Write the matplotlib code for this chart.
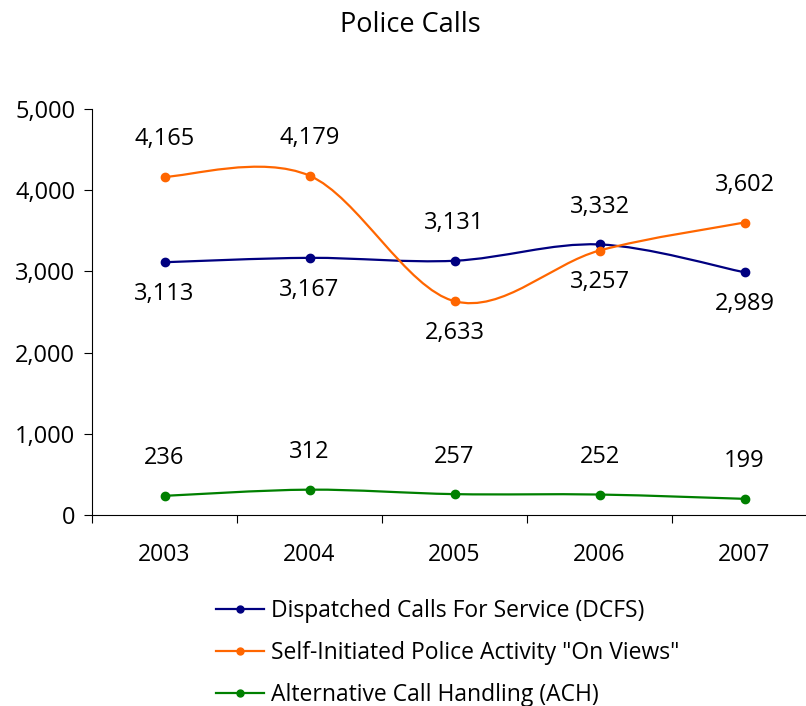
import matplotlib
matplotlib.use("Agg")
import matplotlib.pyplot as plt
from matplotlib.path import Path
from matplotlib.patches import PathPatch
from matplotlib.lines import Line2D
from matplotlib.ticker import FuncFormatter, FixedLocator

plt.rcParams["font.family"] = ["Open Sans", "DejaVu Sans"]

years = ["2003", "2004", "2005", "2006", "2007"]
dcfs = [3113, 3167, 3131, 3332, 2989]
on_views = [4165, 4179, 2633, 3257, 3602]
ach = [236, 312, 257, 252, 199]

series = [
    ("Dispatched Calls For Service (DCFS)", dcfs, "#000080",
     [-1, -1, 1, 1, -1]),
    ('Self-Initiated Police Activity "On Views"', on_views, "#ff6600",
     [1, 1, -1, -1, 1]),
    ("Alternative Call Handling (ACH)", ach, "#008000",
     [1, 1, 1, 1, 1]),
]


def smooth_path(xs, ys):
    # excel-style smoothing: cubic bezier through points, catmull-rom handles
    verts = [(xs[0], ys[0])]
    codes = [Path.MOVETO]
    n = len(xs)
    for i in range(n - 1):
        x0, y0 = (xs[i - 1], ys[i - 1]) if i > 0 else (xs[i], ys[i])
        x3, y3 = (xs[i + 2], ys[i + 2]) if i + 2 < n else (xs[i + 1], ys[i + 1])
        c1 = (xs[i] + (xs[i + 1] - x0) / 6, ys[i] + (ys[i + 1] - y0) / 6)
        c2 = (xs[i + 1] - (x3 - xs[i]) / 6, ys[i + 1] - (y3 - ys[i]) / 6)
        verts += [c1, c2, (xs[i + 1], ys[i + 1])]
        codes += [Path.CURVE4] * 3
    return Path(verts, codes)


fig = plt.figure(figsize=(8.06, 7.06), dpi=100)
W, H = 806, 706
left, right, top, bottom = 92, 806, 109, 515
ax = fig.add_axes([left / W, 1 - bottom / H, (right - left) / W, (bottom - top) / H])

xs = list(range(len(years)))
for name, vals, col, sides in series:
    ax.add_patch(PathPatch(smooth_path(xs, vals), fill=False, edgecolor=col,
                           lw=1.6, zorder=3, capstyle="round"))
    ax.plot(xs, vals, "o", color=col, ms=6, zorder=4)
    for x, v, s in zip(xs, vals, sides):
        ax.annotate(f"{v:,}", (x, v), textcoords="offset points",
                    xytext=(0, 27 if s > 0 else -23), ha="center", va="center",
                    fontsize=17, color="black")

ax.set_xlim(-0.5, (right - left) / 145 - 0.5)
ax.set_ylim(0, 5000)
ax.set_yticks(range(0, 5001, 1000))
ax.yaxis.set_major_formatter(FuncFormatter(lambda v, p: f"{int(v):,}"))
ax.set_xticks(xs)
ax.set_xticklabels(years)
ax.xaxis.set_minor_locator(FixedLocator([i - 0.5 for i in range(len(years))]))
ax.tick_params(axis="x", which="major", length=0, pad=20, labelsize=16.5)
ax.tick_params(axis="x", which="minor", length=6, direction="out", width=0.8)
ax.tick_params(axis="y", length=6, direction="out", width=0.8, labelsize=17, pad=6)
for sp in ("top", "right"):
    ax.spines[sp].set_visible(False)
for sp in ("left", "bottom"):
    ax.spines[sp].set_linewidth(0.8)

fig.text(410 / W, 1 - 25 / H, "Police Calls", ha="center", va="center", fontsize=19.5)

handles = [Line2D([], [], color=col, marker="o", ms=5, lw=1.6, label=name)
           for name, vals, col, sides in series]
fig.legend(handles=handles, loc="center left", bbox_to_anchor=(195 / W, 1 - 653 / H),
           frameon=False, fontsize=16.5, handlelength=2.1, labelspacing=0.78,
           handletextpad=0.3)

fig.savefig("out.png", dpi=100)
